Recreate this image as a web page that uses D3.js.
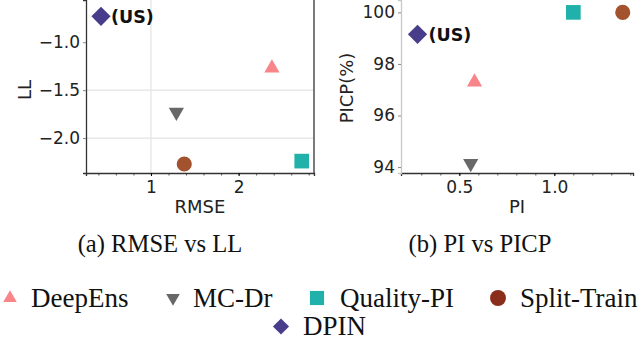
<!DOCTYPE html>
<html>
<head>
<meta charset="utf-8">
<script src="https://cdn.jsdelivr.net/npm/d3@7"></script>
<style>
  body { margin: 0; background: #fff; }
  svg { display: block; }
</style>
</head>
<body>
<script>
const methods = ['DeepEns', 'MC-Dr', 'Quality-PI', 'Split-Train', 'DPIN'];
const rmse = [2.38, 1.29, 2.72, 1.38, 0.43];
const ll = [-1.27, -1.73, -2.24, -2.27, -0.73];
const pi = [0.58, 0.56, 1.10, 1.36, 0.28];
const picp = [97.3, 94.14, 100, 100, 99.15];

const rmseTicks = [1, 2];
const llTicks = [-1.0, -1.5, -2.0];
const piTicks = [0.5, 1.0];
const picpTicks = [94, 96, 98, 100];

const colors = ['#f8858a', '#686868', '#20b2aa', '#a3522e', '#483d8b'];
const legendColors = ['#f8858a', '#686868', '#20b2aa', '#8b2d1b', '#483d8b'];
const shapes = ['up', 'down', 'square', 'circle', 'diamond'];

const width = 640, height = 341;
const svg = d3.select('body').append('svg')
    .attr('width', width)
    .attr('height', height);

// marker path helper
function marker(shape, size) {
    const type = {
        up: d3.symbolTriangle, down: d3.symbolTriangle,
        square: d3.symbolSquare, circle: d3.symbolCircle, diamond: d3.symbolSquare
    }[shape];
    return d3.symbol().type(type).size(size)();
}
function rot(shape) {
    if (shape === 'down') return ' rotate(180)';
    if (shape === 'diamond') return ' rotate(45)';
    return '';
}
const sizes = { up: 100, down: 100, square: 215, circle: 180, diamond: 185 };

function panel(opt) {
    const g = svg.append('g');
    const x = d3.scaleLinear().domain(opt.xDomain).range([opt.left, opt.right]);
    const y = d3.scaleLinear().domain(opt.yDomain).range([opt.bottom, opt.top]);

    // grid
    g.selectAll('.gx').data(opt.gridX).enter().append('line')
        .attr('x1', d => x(d)).attr('x2', d => x(d))
        .attr('y1', opt.top).attr('y2', opt.bottom)
        .attr('stroke', '#e3e3e3').attr('stroke-width', 1.2);
    g.selectAll('.gy').data(opt.gridY).enter().append('line')
        .attr('y1', d => y(d)).attr('y2', d => y(d))
        .attr('x1', opt.left).attr('x2', opt.right)
        .attr('stroke', '#e3e3e3').attr('stroke-width', 1.2);

    // minor ticks
    const gxMinor = g.append('g')
        .attr('transform', `translate(0,${opt.bottom})`)
        .call(d3.axisBottom(x).tickValues(d3.range(opt.xMinor[0], opt.xMinor[1], opt.xMinor[2])).tickSize(2.5).tickFormat(''));
    gxMinor.select('.domain').remove();
    gxMinor.selectAll('line').attr('stroke', '#555');

    // axes
    const xAxis = g.append('g')
        .attr('transform', `translate(0,${opt.bottom})`)
        .call(d3.axisBottom(x).tickValues(opt.xTicks).tickSize(3).tickPadding(5).tickFormat(opt.xFmt));
    xAxis.select('.domain').attr('stroke', '#333').attr('stroke-width', 1.3);
    xAxis.selectAll('text').attr('font-family', 'DejaVu Sans').attr('font-size', 17).attr('fill', '#222');

    const yAxis = g.append('g')
        .attr('transform', `translate(${opt.left},0)`)
        .call(d3.axisLeft(y).tickValues(opt.yTicks).tickSize(3).tickPadding(3).tickFormat(opt.yFmt));
    yAxis.select('.domain').attr('stroke', opt.leftSpine).attr('stroke-width', 1.3);
    yAxis.selectAll('line').attr('stroke', '#888');
    yAxis.selectAll('text').attr('font-family', 'DejaVu Sans').attr('font-size', 17).attr('fill', '#222');

    if (opt.rightSpine) {
        g.append('line')
            .attr('x1', opt.right).attr('x2', opt.right)
            .attr('y1', opt.top).attr('y2', opt.bottom)
            .attr('stroke', '#333').attr('stroke-width', 1.3);
    }

    // points
    g.selectAll('.pt').data(methods).enter().append('path')
        .attr('d', (d, i) => marker(shapes[i], sizes[shapes[i]]))
        .attr('transform', (d, i) => `translate(${x(opt.xs[i])},${y(opt.ys[i])})` + rot(shapes[i]))
        .attr('fill', (d, i) => colors[i]);

    // (US) label next to DPIN
    const k = methods.indexOf('DPIN');
    g.append('text')
        .attr('x', x(opt.xs[k]) + opt.usDx)
        .attr('y', y(opt.ys[k]))
        .attr('dy', '0.36em')
        .attr('font-family', 'DejaVu Sans')
        .attr('font-weight', 'bold')
        .attr('font-size', 17.5)
        .attr('fill', '#111')
        .text('(US)');

    // axis titles
    g.append('text')
        .attr('x', (opt.left + opt.right) / 2)
        .attr('y', 213)
        .attr('text-anchor', 'middle')
        .attr('font-family', 'DejaVu Sans').attr('font-size', 18).attr('fill', '#222')
        .text(opt.xLabel);
    g.append('text')
        .attr('transform', `translate(${opt.yLabelX},${opt.yLabelY}) rotate(-90)`)
        .attr('text-anchor', 'middle')
        .attr('font-family', 'DejaVu Sans').attr('font-size', 18).attr('fill', '#222')
        .text(opt.yLabel);

    // caption
    g.append('text')
        .attr('x', opt.capX)
        .attr('y', 252)
        .attr('text-anchor', 'middle')
        .attr('font-family', 'Liberation Serif').attr('font-size', 24.6).attr('fill', '#111')
        .text(opt.caption);
}

panel({
    xs: rmse, ys: ll,
    xDomain: [0.259, 2.86], yDomain: [-2.364, -0.56],
    left: 86, right: 314, top: 0, bottom: 173,
    xTicks: rmseTicks, yTicks: llTicks,
    xFmt: d3.format('d'), yFmt: d => d3.format('.1f')(d).replace('-', '\u2212'),
    xMinor: [0.4, 2.81, 0.2],
    gridX: [1], gridY: [-1.5, -2.0],
    leftSpine: '#333', rightSpine: true,
    usDx: 10,
    xLabel: 'RMSE', yLabel: 'LL', yLabelX: 31, yLabelY: 90,
    caption: '(a) RMSE vs LL', capX: 160
});

panel({
    xs: pi, ys: picp,
    xDomain: [0.193, 1.414], yDomain: [93.77, 100.48],
    left: 401, right: 633, top: 0, bottom: 173,
    xTicks: piTicks, yTicks: picpTicks,
    xFmt: d3.format('.1f'), yFmt: d3.format('d'),
    xMinor: [0.3, 1.41, 0.1],
    gridX: [], gridY: [],
    leftSpine: '#c8c8c8', rightSpine: false,
    usDx: 11,
    xLabel: 'PI', yLabel: 'PICP(%)', yLabelX: 353, yLabelY: 88,
    caption: '(b) PI vs PICP', capX: 480
});

// legend
const legendPos = [
    { mx: 10, tx: 31, y: 306.5 },
    { mx: 173, tx: 193, y: 306.5 },
    { mx: 317, tx: 340, y: 306.5 },
    { mx: 498, tx: 520, y: 306.5 },
    { mx: 281, tx: 303, y: 335 }
];
const legendSizes = { up: 80, down: 80, square: 200, circle: 200, diamond: 130 };
const legend = svg.append('g');
methods.forEach((m, i) => {
    const p = legendPos[i];
    legend.append('path')
        .attr('d', marker(shapes[i], legendSizes[shapes[i]]))
        .attr('transform', `translate(${p.mx},${p.y - 8.5})` + rot(shapes[i]))
        .attr('fill', legendColors[i]);
    legend.append('text')
        .attr('x', p.tx)
        .attr('y', p.y)
        .attr('font-family', 'Liberation Serif')
        .attr('font-size', 27)
        .attr('fill', '#111')
        .text(m);
});
</script>
</body>
</html>
